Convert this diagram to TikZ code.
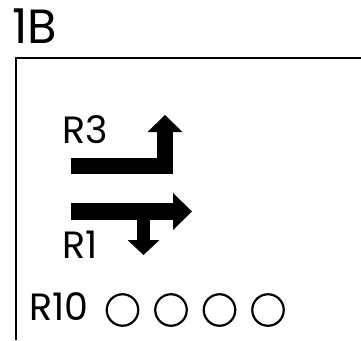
\documentclass[tikz,border=0pt]{standalone}
\usepackage{fontspec}
\setmainfont{Poppins}
\usetikzlibrary{arrows.meta}

\tikzset{
  lbl/.style={anchor=base west, inner sep=0pt, font=\fontsize{38}{38}\selectfont},
  lamp/.style={circle, draw, line width=2.2pt, minimum size=31.5pt, inner sep=0pt},
  lane/.style={line width=#1}
}

\begin{document}
\begin{tikzpicture}[x=1pt,y=-1pt]
	\useasboundingbox (0,0) rectangle (361,340);

	\node[lbl, font=\fontsize{48}{48}\selectfont] (title) at (12,43) {1B};

		% frame
		\coordinate (F1) at (15.7,340);
		\coordinate (F2) at (15.7,57.7);
		\coordinate (F3) at (361,57.7);
		\draw[line width=2pt] (F1) -- (F2) -- (F3);

		% R3: straight then left turn up
		\node[lbl] (R3) at (62,143) {R3};
		\coordinate (A1) at (71,165.5);
		\coordinate (A2) at (165,165.5);
		\coordinate (A3) at (165,115);
		\draw[lane=16pt, -{Triangle[width=35pt,length=17pt,line width=0pt]}] (A1) -- (A2) -- (A3);

		% R1: straight and right turn down
		\node[lbl] (R1) at (62,258) {R1};
		\coordinate (B1) at (71,211.5);
		\coordinate (B2) at (192,211.5);
		\coordinate (B3) at (143.5,211.5);
		\coordinate (B4) at (143.5,255);
		\draw[lane=17pt, -{Triangle[width=37pt,length=19pt,line width=0pt]}] (B1) -- (B2);
		\draw[lane=13pt, -{Triangle[width=32pt,length=15pt,line width=0pt]}] (B3) -- (B4);

		% R10 lamps
		\node[lbl] (R10) at (29,320) {R10};
		\foreach \i in {0,...,3}
			\node[lamp] (L\i) at (122.5+48.5*\i,310) {};
	\end{tikzpicture}
\end{document}
